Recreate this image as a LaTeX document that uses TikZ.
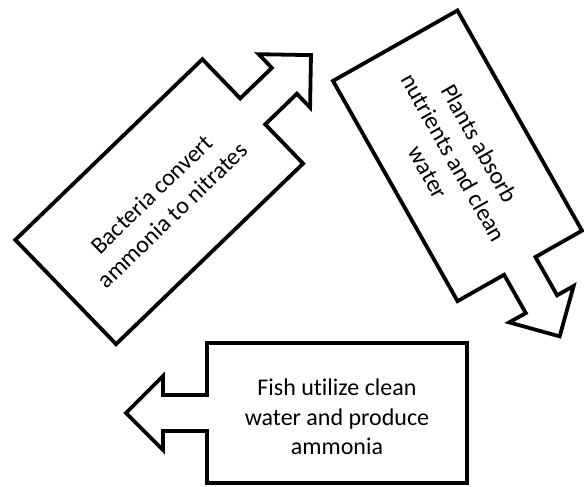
\documentclass[tikz,border=0pt]{standalone}
\usepackage{fontspec}
\setmainfont{Carlito}[Ligatures=NoCommon]
\begin{document}
\begin{tikzpicture}[x=1pt,y=1pt,
  calloutline/.style={draw=black,line width=3.8pt,fill=white,line join=miter},
  callouttext/.style={align=center,font=\fontsize{24}{29.5}\selectfont,text=black},
  pics/calloutarrow/.style n args={2}{code={
    \pgfmathsetmacro{\hw}{#1/2}\pgfmathsetmacro{\hh}{#2/2}
    \draw[calloutline] (-\hw,-\hh) -- (\hw,-\hh) -- (\hw,-18) -- (\hw+44,-18) -- (\hw+44,-37)
      -- (\hw+81,0) -- (\hw+44,37) -- (\hw+44,18) -- (\hw,18) -- (\hw,\hh) -- (-\hw,\hh) -- cycle;
  }}]
\useasboundingbox (0,0) rectangle (584,487);
% bottom: fish
\pic[rotate=180] at (337,74) {calloutarrow={260}{140}};
\node[callouttext] (fish) at (337,70) {Fish utilize clean\\water and produce\\ammonia};
% top-left: bacteria
\pic[rotate=44] at (159.2,285.3) {calloutarrow={260}{145}};
\node[callouttext,rotate=44] (bact) at (162,282.4) {Bacteria convert\\ammonia to nitrates};
% right: plants
\pic[rotate=-60.5] at (457.5,331.2) {calloutarrow={253}{143}};
\node[callouttext,rotate=-60.5] (plants) at (454,329.2) {Plants absorb\\nutrients and clean\\water};
\end{tikzpicture}
\end{document}
